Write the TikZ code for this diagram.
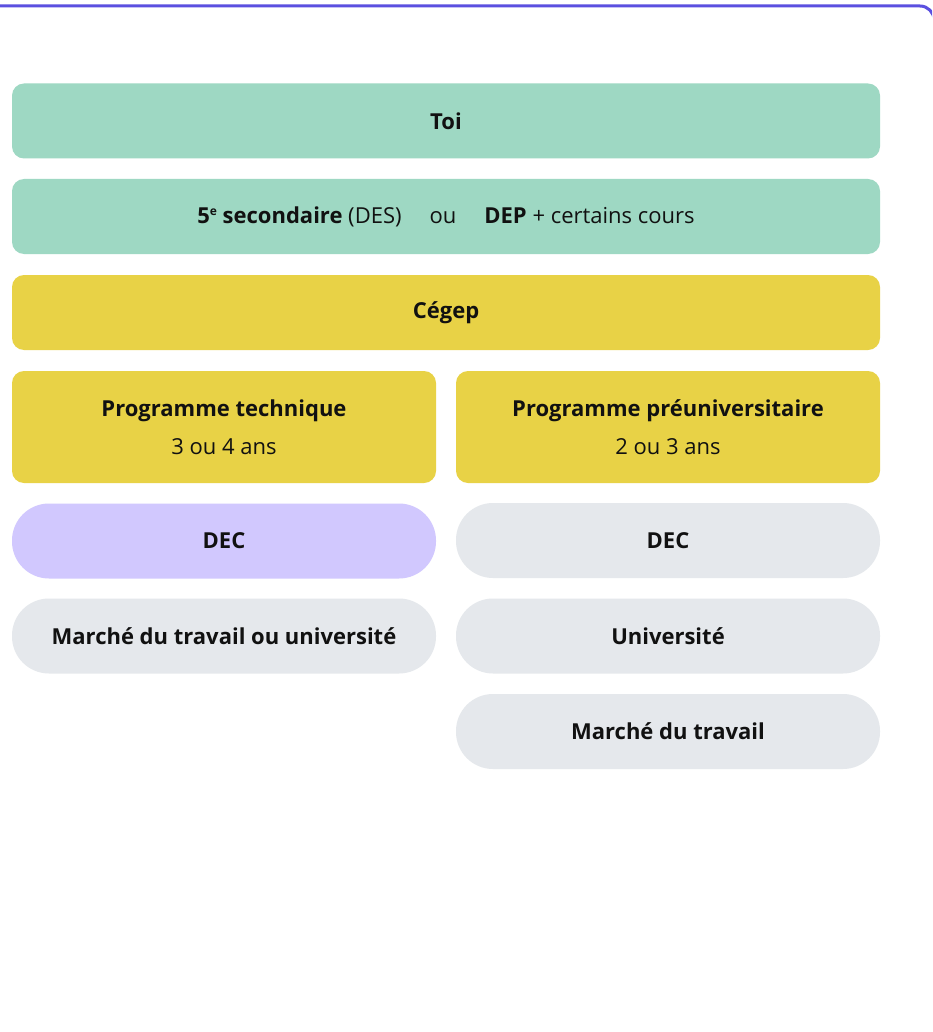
\documentclass[tikz,border=0pt]{standalone}
\usepackage{fontspec}
\setmainfont{Open Sans}
\definecolor{vert}{HTML}{9ED8C3}
\definecolor{jaune}{HTML}{E8D246}
\definecolor{mauve}{HTML}{D1C8FE}
\definecolor{gris}{HTML}{E5E8EC}
\definecolor{bord}{HTML}{5B50E0}
\definecolor{encre}{HTML}{111111}
\begin{document}
\begin{tikzpicture}[x=1pt,y=1pt,
  box/.style={rectangle, rounded corners=12pt, inner sep=0pt, text=encre,
    font=\fontsize{22}{26}\selectfont, align=center},
  wide/.style={box, minimum width=868pt, minimum height=75pt},
  half/.style={box, minimum width=424pt, minimum height=75pt},
  tall/.style={half, minimum height=112pt},
  pill/.style={half, rounded corners=37pt}]
\useasboundingbox (0,0) rectangle (932,-1032);
\fill[white] (0,0) rectangle (932,-1032);
\begin{scope}
\clip (0,0) rectangle (932,-1032);
\draw[bord, line width=3pt, rounded corners=14pt] (-20,-6) -- (934,-6) -- (934,-1100);
\end{scope}
\node[wide, fill=vert] (toi) at (446,-121) {\textbf{Toi}};
\node[wide, fill=vert] (des) at (446,-216.5) {\textbf{5\raisebox{0.6ex}{\fontsize{12}{13}\selectfont e} secondaire} (DES)\hspace{28pt}ou\hspace{28pt}\textbf{DEP} + certains cours};
\node[wide, fill=jaune] (cegep) at (446,-312.5) {\textbf{Cégep}};
\node[tall, fill=jaune] (tech) at (224,-427) {\textbf{Programme technique}\\[12pt]3 ou 4 ans};
\node[tall, fill=jaune] (preu) at (668,-427) {\textbf{Programme préuniversitaire}\\[12pt]2 ou 3 ans};
\node[pill, fill=mauve] (decl) at (224,-541) {\textbf{DEC}};
\node[pill, fill=gris] (decr) at (668,-540.5) {\textbf{DEC}};
\node[pill, fill=gris] (mtu) at (224,-636) {\textbf{Marché du travail ou université}};
\node[pill, fill=gris] (univ) at (668,-636) {\textbf{Université}};
\node[pill, fill=gris] (mt) at (668,-731.5) {\textbf{Marché du travail}};
\end{tikzpicture}
\end{document}
